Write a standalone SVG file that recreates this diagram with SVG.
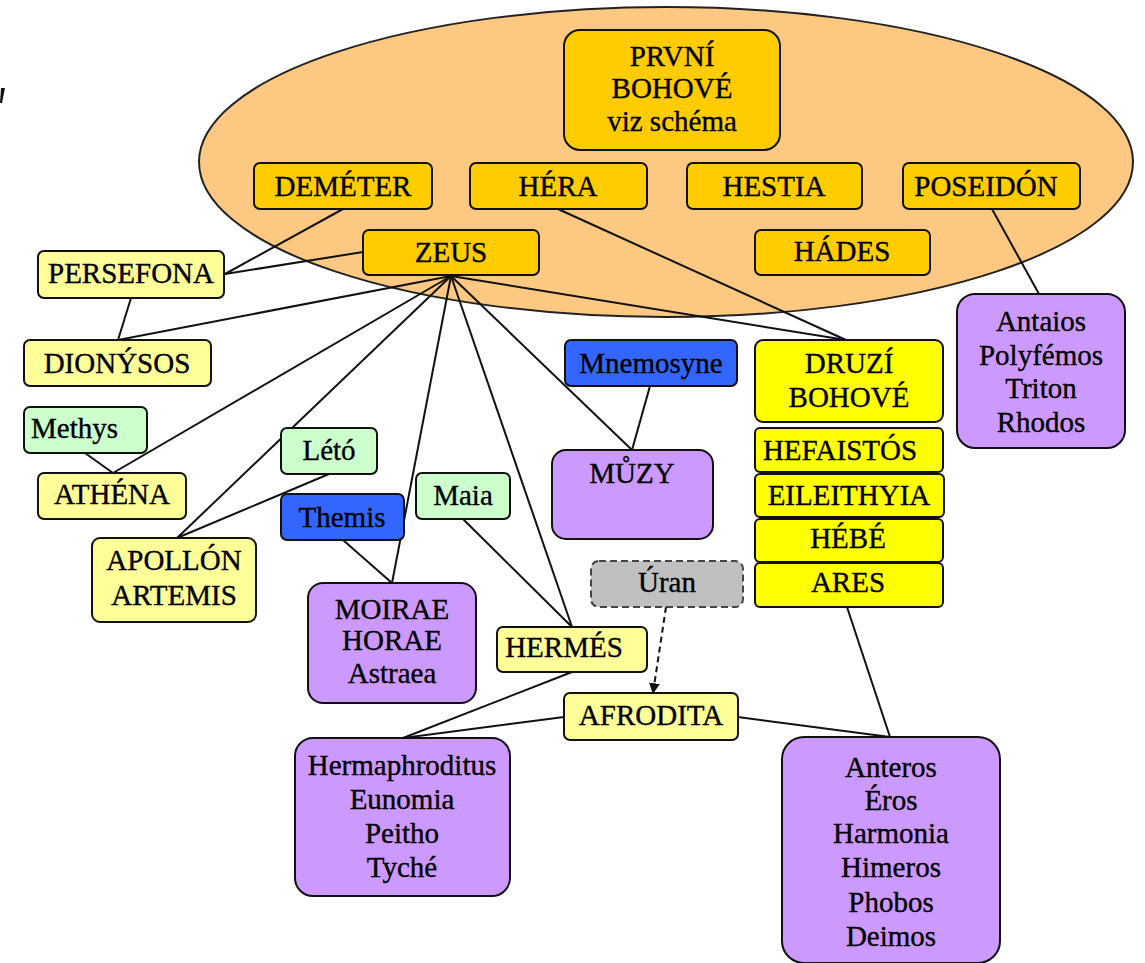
<svg xmlns="http://www.w3.org/2000/svg" width="1145" height="963" viewBox="0 0 1145 963">
<defs>
<style>
text{font-family:"Liberation Serif","Times New Roman",serif;font-size:29px;fill:#000;stroke:#000;stroke-width:0.35;text-anchor:middle}
.n rect{stroke:#111;stroke-width:2}
.top{fill:#ffcc00}
.ly{fill:#ffff99}
.gr{fill:#ccffcc}
.bl{fill:#3366ff}
.pu{fill:#cc99ff}
.ye{fill:#ffff00}
.ga{fill:#c0c0c0}
#connectors line{stroke:#111;stroke-width:2;fill:none}
</style>
<marker id="arr" viewBox="0 0 10 10" refX="9" refY="5" markerWidth="11" markerHeight="11" orient="auto" markerUnits="userSpaceOnUse">
<path d="M0,0 L10,5 L0,10 z" fill="#111"/>
</marker>
</defs>
<rect width="1145" height="963" fill="#fff"/>
<polygon points="1,88 5,88 2,103 0,103" fill="#111"/>
<g id="olympus">
<ellipse cx="666" cy="162" rx="467" ry="155" fill="#fdc982" stroke="#222" stroke-width="2"/>
</g>
<g id="connectors">
<line x1="343" y1="209" x2="225" y2="274"/>
<line x1="363" y1="252" x2="225" y2="274"/>
<line x1="131" y1="298" x2="118" y2="340"/>
<line x1="451" y1="276" x2="118" y2="340"/>
<line x1="451" y1="276" x2="113" y2="473"/>
<line x1="85" y1="453" x2="113" y2="473"/>
<line x1="451" y1="276" x2="177" y2="538"/>
<line x1="329" y1="474" x2="177" y2="538"/>
<line x1="451" y1="276" x2="392" y2="583"/>
<line x1="343" y1="540" x2="392" y2="583"/>
<line x1="451" y1="276" x2="572" y2="627"/>
<line x1="463" y1="519" x2="572" y2="627"/>
<line x1="451" y1="276" x2="632" y2="450"/>
<line x1="650" y1="386" x2="632" y2="450"/>
<line x1="451" y1="276" x2="846" y2="340"/>
<line x1="558" y1="209" x2="846" y2="340"/>
<line x1="992" y1="209" x2="1039" y2="294"/>
<line x1="666" y1="607" x2="653" y2="693" stroke-dasharray="6,4" marker-end="url(#arr)"/>
<line x1="572" y1="672" x2="403" y2="738"/>
<line x1="564" y1="717" x2="403" y2="738"/>
<line x1="738" y1="717" x2="890" y2="737"/>
<line x1="847" y1="607" x2="890" y2="737"/>
</g>
<g id="prvni" class="n"><rect class="top" x="564" y="30" width="216" height="120" rx="16"/><text x="672" y="66">PRVNÍ</text><text x="672" y="98">BOHOVÉ</text><text x="672" y="131">viz schéma</text></g>
<g id="demeter" class="n"><rect class="top" x="254" y="163" width="178" height="46" rx="6"/><text x="343" y="196">DEMÉTER</text></g>
<g id="hera" class="n"><rect class="top" x="470" y="163" width="177" height="46" rx="6"/><text x="558" y="196">HÉRA</text></g>
<g id="hestia" class="n"><rect class="top" x="687" y="163" width="175" height="46" rx="6"/><text x="774" y="196">HESTIA</text></g>
<g id="poseidon" class="n"><rect class="top" x="903" y="163" width="177" height="46" rx="6"/><text x="986" y="196">POSEIDÓN</text></g>
<g id="zeus" class="n"><rect class="top" x="363" y="230" width="176" height="45" rx="6"/><text x="451" y="262">ZEUS</text></g>
<g id="hades" class="n"><rect class="top" x="755" y="230" width="175" height="45" rx="6"/><text x="842" y="261">HÁDES</text></g>
<g id="persefona" class="n"><rect class="ly" x="38" y="251" width="186" height="47" rx="6"/><text x="131" y="283">PERSEFONA</text></g>
<g id="dionysos" class="n"><rect class="ly" x="24" y="340" width="187" height="46" rx="6"/><text x="117" y="373">DIONÝSOS</text></g>
<g id="methys" class="n"><rect class="gr" x="24" y="407" width="123" height="46" rx="6"/><text x="31" y="438" style="text-anchor:start">Methys</text></g>
<g id="athena" class="n"><rect class="ly" x="38" y="473" width="148" height="46" rx="6"/><text x="112" y="504">ATHÉNA</text></g>
<g id="leto" class="n"><rect class="gr" x="281" y="428" width="96" height="46" rx="6"/><text x="329" y="460">Létó</text></g>
<g id="themis" class="n"><rect class="bl" x="281" y="494" width="123" height="46" rx="6"/><text x="342" y="527">Themis</text></g>
<g id="apollon" class="n"><rect class="ly" x="92" y="538" width="164" height="84" rx="8"/><text x="174" y="570">APOLLÓN</text><text x="174" y="605">ARTEMIS</text></g>
<g id="moirae" class="n"><rect class="pu" x="308" y="583" width="168" height="120" rx="15"/><text x="392" y="619">MOIRAE</text><text x="392" y="650">HORAE</text><text x="392" y="683">Astraea</text></g>
<g id="maia" class="n"><rect class="gr" x="416" y="473" width="94" height="46" rx="6"/><text x="463" y="505">Maia</text></g>
<g id="mnemosyne" class="n"><rect class="bl" x="565" y="340" width="172" height="46" rx="6"/><text x="651" y="373">Mnemosyne</text></g>
<g id="muzy" class="n"><rect class="pu" x="552" y="450" width="161" height="89" rx="14"/><text x="632" y="483">MŮZY</text></g>
<g id="uran" class="n"><rect class="ga" x="591" y="561" width="152" height="46" rx="8" stroke-dasharray="7,4" style="stroke:#444"/><text x="667" y="592">Úran</text></g>
<g id="hermes" class="n"><rect class="ly" x="497" y="627" width="150" height="45" rx="6"/><text x="564" y="657">HERMÉS</text></g>
<g id="afrodita" class="n"><rect class="ly" x="564" y="693" width="174" height="47" rx="6"/><text x="651" y="725">AFRODITA</text></g>
<g id="hermaphroditus" class="n"><rect class="pu" x="295" y="738" width="215" height="158" rx="18"/><text x="402" y="775">Hermaphroditus</text><text x="402" y="809">Eunomia</text><text x="402" y="843">Peitho</text><text x="402" y="877">Tyché</text></g>
<g id="anteros" class="n"><rect class="pu" x="782" y="737" width="218" height="226" rx="22"/><text x="891" y="777">Anteros</text><text x="891" y="810">Éros</text><text x="891" y="843">Harmonia</text><text x="891" y="877">Himeros</text><text x="891" y="912">Phobos</text><text x="891" y="946">Deimos</text></g>
<g id="druzi" class="n"><rect class="ye" x="755" y="340" width="188" height="82" rx="8"/><text x="849" y="373">DRUZÍ</text><text x="849" y="407">BOHOVÉ</text></g>
<g id="hefaistos" class="n"><rect class="ye" x="755" y="428" width="188" height="44" rx="5"/><text x="840" y="460">HEFAISTÓS</text></g>
<g id="eileithyia" class="n"><rect class="ye" x="755" y="474" width="189" height="43" rx="5"/><text x="849" y="505">EILEITHYIA</text></g>
<g id="hebe" class="n"><rect class="ye" x="755" y="519" width="188" height="43" rx="5"/><text x="848" y="548">HÉBÉ</text></g>
<g id="ares" class="n"><rect class="ye" x="755" y="563" width="188" height="44" rx="5"/><text x="848" y="592">ARES</text></g>
<g id="antaios" class="n"><rect class="pu" x="957" y="294" width="168" height="154" rx="18"/><text x="1041" y="331">Antaios</text><text x="1041" y="365">Polyfémos</text><text x="1041" y="398">Triton</text><text x="1041" y="432">Rhodos</text></g>
</svg>
